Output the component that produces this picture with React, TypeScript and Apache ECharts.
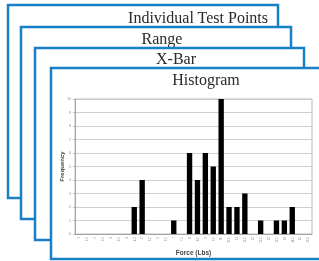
import React, { useEffect, useRef } from "react";
import * as echarts from "echarts";

const categories = [
  "1", "1.5", "2", "2.5", "3", "3.5", "4", "4.5", "5", "5.5",
  "6", "6.5", "7", "7.5", "8", "8.5", "9", "9.5", "10", "10.5",
  "11", "11.5", "12", "12.5", "13", "13.5", "14", "14.5", "15", "15.5",
];
const frequency = [
  0, 0, 0, 0, 0, 0, 0, 2, 4, 0,
  0, 0, 1, 0, 6, 4, 6, 5, 10, 2,
  2, 3, 0, 1, 0, 1, 1, 2, 0, 0,
];
const cardTitles = ["Individual Test Points", "Range", "X-Bar", "Histogram"];
const yTicks = [0, 10];

const BLUE = "#1880c6";

export default function App() {
  const ref = useRef<HTMLDivElement>(null);
  useEffect(() => {
    const chart = echarts.init(ref.current!, undefined, { renderer: "svg" });
    const cards = [
      { x: 8, y: 5, w: 270, h: 193 },
      { x: 21, y: 27, w: 270, h: 192 },
      { x: 35, y: 48, w: 269, h: 192 },
      { x: 51, y: 68, w: 280, h: 191 },
    ];
    const titlePos = [
      { x: 268, y: 17, align: "right" },
      { x: 162, y: 38, align: "center" },
      { x: 176, y: 58, align: "center" },
      { x: 206, y: 79, align: "center" },
    ];
    const graphics: any[] = [];
    cards.forEach((c, i) => {
      graphics.push({
        type: "rect",
        z: 1 + i * 2,
        shape: { x: c.x, y: c.y, width: c.w, height: c.h },
        style: { fill: "#ffffff", stroke: BLUE, lineWidth: 2.5 },
      });
      graphics.push({
        type: "text",
        z: 2 + i * 2,
        x: titlePos[i].x,
        y: titlePos[i].y,
        style: {
          text: cardTitles[i],
          fill: "#2a2a2a",
          font: "16px 'Liberation Serif'",
          align: titlePos[i].align,
          verticalAlign: "middle",
        },
      });
    });
    chart.setOption({
      animation: false,
      graphic: { elements: graphics },
      grid: { left: 75, right: 7, top: 99, bottom: 26, show: true, borderColor: "#aaa", borderWidth: 0.8, z: 20 },
      xAxis: {
        type: "category",
        data: categories,
        z: 20,
        axisLine: { lineStyle: { color: "#999", width: 0.8 } },
        axisTick: { lineStyle: { color: "#999", width: 0.6 }, length: 2 },
        axisLabel: { interval: 0, rotate: 90, fontSize: 3, color: "#888", margin: 3, fontFamily: "Liberation Sans" },
        name: "Force (Lbs)",
        nameLocation: "middle",
        nameGap: 15,
        nameMoveOverlap: false,
        nameTextStyle: { fontSize: 6.5, fontWeight: "bold", color: "#444", fontFamily: "Liberation Sans" },
      },
      yAxis: {
        type: "value",
        min: yTicks[0],
        max: yTicks[1],
        interval: 1,
        z: 20,
        axisLine: { show: true, lineStyle: { color: "#999", width: 0.8 } },
        axisTick: { show: true, length: 2, lineStyle: { color: "#999", width: 0.6 } },
        splitLine: { lineStyle: { color: "#c4c4c4", width: 0.8 } },
        axisLabel: { fontSize: 3.5, color: "#888", margin: 4, fontFamily: "Liberation Sans" },
        name: "Frequency",
        nameLocation: "middle",
        nameGap: 10,
        nameMoveOverlap: false,
        nameTextStyle: { fontSize: 6, fontWeight: "bold", color: "#444", fontFamily: "Liberation Sans" },
      },
      series: [
        {
          type: "bar",
          data: frequency,
          z: 21,
          barWidth: "68%",
          itemStyle: { color: "#000" },
        },
      ],
    });
    return () => chart.dispose();
  }, []);
  return <div ref={ref} style={{ position: "fixed", left: 0, top: 0, width: 319, height: 261 }} />;
}
